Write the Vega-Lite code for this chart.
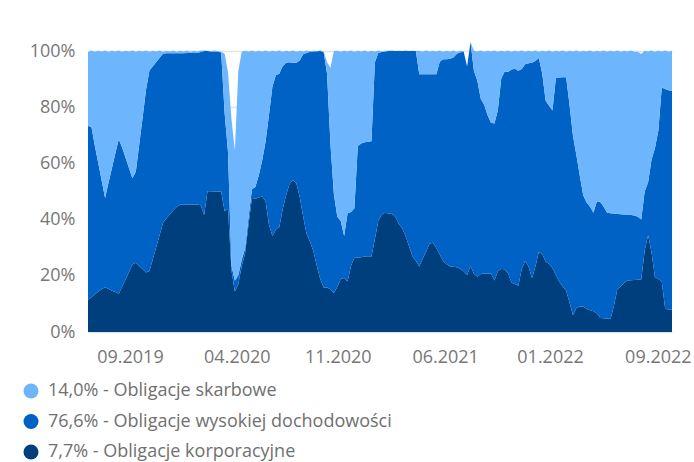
{
  "$schema": "https://vega.github.io/schema/vega-lite/v6.json",
  "width": 584,
  "height": 281,
  "autosize": {"type": "none"},
  "padding": {"left": 88, "top": 51, "right": 22, "bottom": 130},
  "background": "#ffffff",
  "config": {"font": "Open Sans", "view": {"stroke": null}},
  "data": {"values": [
    {"d":"2019-06-26","corporate":11.5,"high_yield":61.8,"treasury":26.3},
    {"d":"2019-07-03","corporate":12.4,"high_yield":60.6,"treasury":27.2},
    {"d":"2019-07-10","corporate":13.4,"high_yield":52.9,"treasury":33.4},
    {"d":"2019-07-17","corporate":14.3,"high_yield":45.8,"treasury":40.0},
    {"d":"2019-07-24","corporate":15.2,"high_yield":38.7,"treasury":45.9},
    {"d":"2019-07-31","corporate":15.9,"high_yield":31.8,"treasury":52.5},
    {"d":"2019-08-07","corporate":15.3,"high_yield":37.8,"treasury":46.6},
    {"d":"2019-08-14","corporate":14.7,"high_yield":43.6,"treasury":41.8},
    {"d":"2019-08-21","corporate":14.2,"high_yield":49.3,"treasury":36.3},
    {"d":"2019-08-28","corporate":13.6,"high_yield":55.0,"treasury":31.6},
    {"d":"2019-09-04","corporate":16.1,"high_yield":49.6,"treasury":34.0},
    {"d":"2019-09-11","corporate":18.7,"high_yield":43.3,"treasury":38.1},
    {"d":"2019-09-18","corporate":21.3,"high_yield":37.1,"treasury":41.4},
    {"d":"2019-09-25","corporate":24.0,"high_yield":30.7,"treasury":45.5},
    {"d":"2019-10-02","corporate":24.6,"high_yield":32.4,"treasury":42.7},
    {"d":"2019-10-09","corporate":23.5,"high_yield":43.2,"treasury":33.4},
    {"d":"2019-10-16","corporate":22.4,"high_yield":54.0,"treasury":23.4},
    {"d":"2019-10-23","corporate":21.2,"high_yield":65.1,"treasury":13.9},
    {"d":"2019-10-30","corporate":21.7,"high_yield":71.4,"treasury":6.6},
    {"d":"2019-11-06","corporate":26.0,"high_yield":68.6,"treasury":5.5},
    {"d":"2019-11-13","corporate":30.3,"high_yield":65.8,"treasury":3.7},
    {"d":"2019-11-20","corporate":34.6,"high_yield":63.0,"treasury":2.6},
    {"d":"2019-11-27","corporate":39.0,"high_yield":60.1,"treasury":0.6},
    {"d":"2019-12-04","corporate":40.5,"high_yield":58.7,"treasury":0.9},
    {"d":"2019-12-11","corporate":41.9,"high_yield":57.3,"treasury":0.6},
    {"d":"2019-12-18","corporate":43.3,"high_yield":55.9,"treasury":1.0},
    {"d":"2019-12-25","corporate":44.6,"high_yield":54.6,"treasury":0.5},
    {"d":"2020-01-01","corporate":45.3,"high_yield":53.9,"treasury":0.9},
    {"d":"2020-01-08","corporate":45.3,"high_yield":53.9,"treasury":0.6},
    {"d":"2020-01-15","corporate":45.4,"high_yield":53.9,"treasury":0.9},
    {"d":"2020-01-22","corporate":45.4,"high_yield":53.9,"treasury":0.4},
    {"d":"2020-01-29","corporate":45.4,"high_yield":53.9,"treasury":0.8},
    {"d":"2020-02-05","corporate":45.4,"high_yield":53.9,"treasury":0.5},
    {"d":"2020-02-12","corporate":45.1,"high_yield":54.5,"treasury":0.6},
    {"d":"2020-02-19","corporate":41.6,"high_yield":58.4,"treasury":0.2},
    {"d":"2020-02-26","corporate":50.1,"high_yield":49.9,"treasury":0.1},
    {"d":"2020-03-04","corporate":50.1,"high_yield":49.7,"treasury":0.2},
    {"d":"2020-03-11","corporate":50.0,"high_yield":49.8,"treasury":0.4},
    {"d":"2020-03-18","corporate":50.0,"high_yield":49.8,"treasury":0.1},
    {"d":"2020-03-25","corporate":50.0,"high_yield":49.5,"treasury":0.2},
    {"d":"2020-04-01","corporate":43.0,"high_yield":35.0,"treasury":21.0},
    {"d":"2020-04-08","corporate":43.8,"high_yield":20.2,"treasury":28.4},
    {"d":"2020-04-15","corporate":22.0,"high_yield":1.7,"treasury":52.3},
    {"d":"2020-04-22","corporate":14.4,"high_yield":3.8,"treasury":46.3},
    {"d":"2020-04-29","corporate":17.0,"high_yield":3.1,"treasury":72.6},
    {"d":"2020-05-06","corporate":23.4,"high_yield":2.2,"treasury":74.1},
    {"d":"2020-05-13","corporate":28.0,"high_yield":1.8,"treasury":70.3},
    {"d":"2020-05-20","corporate":38.2,"high_yield":2.5,"treasury":59.1},
    {"d":"2020-05-27","corporate":47.7,"high_yield":3.1,"treasury":49.4},
    {"d":"2020-06-03","corporate":47.4,"high_yield":4.2,"treasury":48.1},
    {"d":"2020-06-10","corporate":47.9,"high_yield":7.8,"treasury":44.4},
    {"d":"2020-06-17","corporate":48.2,"high_yield":12.8,"treasury":38.8},
    {"d":"2020-06-24","corporate":46.5,"high_yield":21.3,"treasury":32.4},
    {"d":"2020-07-01","corporate":38.2,"high_yield":39.1,"treasury":22.4},
    {"d":"2020-07-08","corporate":34.1,"high_yield":53.3,"treasury":12.7},
    {"d":"2020-07-15","corporate":36.5,"high_yield":54.9,"treasury":8.4},
    {"d":"2020-07-22","corporate":37.3,"high_yield":54.6,"treasury":8.3},
    {"d":"2020-07-29","corporate":43.7,"high_yield":50.9,"treasury":5.1},
    {"d":"2020-08-05","corporate":48.7,"high_yield":47.1,"treasury":4.3},
    {"d":"2020-08-12","corporate":52.7,"high_yield":43.3,"treasury":3.8},
    {"d":"2020-08-19","corporate":54.0,"high_yield":41.8,"treasury":4.4},
    {"d":"2020-08-26","corporate":53.0,"high_yield":42.8,"treasury":3.9},
    {"d":"2020-09-02","corporate":48.0,"high_yield":48.6,"treasury":3.5},
    {"d":"2020-09-09","corporate":41.1,"high_yield":57.7,"treasury":1.0},
    {"d":"2020-09-16","corporate":34.9,"high_yield":64.4,"treasury":0.9},
    {"d":"2020-09-23","corporate":32.1,"high_yield":67.6,"treasury":0.2},
    {"d":"2020-09-30","corporate":28.8,"high_yield":71.0,"treasury":0.3},
    {"d":"2020-10-07","corporate":23.6,"high_yield":76.3,"treasury":0.1},
    {"d":"2020-10-14","corporate":18.9,"high_yield":81.1,"treasury":0.2},
    {"d":"2020-10-21","corporate":15.8,"high_yield":83.8,"treasury":0.2},
    {"d":"2020-10-28","corporate":15.8,"high_yield":76.1,"treasury":4.1},
    {"d":"2020-11-04","corporate":15.2,"high_yield":51.4,"treasury":27.4},
    {"d":"2020-11-11","corporate":13.9,"high_yield":35.1,"treasury":51.0},
    {"d":"2020-11-18","corporate":16.1,"high_yield":24.9,"treasury":59.1},
    {"d":"2020-11-25","corporate":18.9,"high_yield":20.6,"treasury":60.2},
    {"d":"2020-12-02","corporate":19.2,"high_yield":15.0,"treasury":65.9},
    {"d":"2020-12-09","corporate":18.0,"high_yield":24.3,"treasury":57.5},
    {"d":"2020-12-16","corporate":23.5,"high_yield":19.2,"treasury":57.5},
    {"d":"2020-12-23","corporate":26.4,"high_yield":17.6,"treasury":55.7},
    {"d":"2020-12-30","corporate":26.5,"high_yield":39.7,"treasury":33.9},
    {"d":"2021-01-06","corporate":26.6,"high_yield":40.5,"treasury":32.7},
    {"d":"2021-01-13","corporate":26.9,"high_yield":40.6,"treasury":32.7},
    {"d":"2021-01-20","corporate":27.0,"high_yield":40.7,"treasury":32.0},
    {"d":"2021-01-27","corporate":26.9,"high_yield":41.0,"treasury":32.2},
    {"d":"2021-02-03","corporate":33.1,"high_yield":62.9,"treasury":3.8},
    {"d":"2021-02-10","corporate":39.5,"high_yield":59.8,"treasury":0.9},
    {"d":"2021-02-17","corporate":41.8,"high_yield":57.8,"treasury":0.2},
    {"d":"2021-02-24","corporate":42.4,"high_yield":57.4,"treasury":0.3},
    {"d":"2021-03-03","corporate":42.2,"high_yield":57.8,"treasury":0.1},
    {"d":"2021-03-10","corporate":42.0,"high_yield":58.0,"treasury":0.2},
    {"d":"2021-03-17","corporate":41.0,"high_yield":59.0,"treasury":0.0},
    {"d":"2021-03-24","corporate":38.5,"high_yield":61.5,"treasury":0.1},
    {"d":"2021-03-31","corporate":36.9,"high_yield":63.1,"treasury":0.0},
    {"d":"2021-04-07","corporate":34.2,"high_yield":65.8,"treasury":0.2},
    {"d":"2021-04-14","corporate":30.5,"high_yield":69.5,"treasury":0.0},
    {"d":"2021-04-21","corporate":27.0,"high_yield":73.0,"treasury":0.1},
    {"d":"2021-04-28","corporate":25.4,"high_yield":74.6,"treasury":0.0},
    {"d":"2021-05-05","corporate":23.3,"high_yield":68.4,"treasury":8.4},
    {"d":"2021-05-12","corporate":26.1,"high_yield":65.6,"treasury":8.1},
    {"d":"2021-05-19","corporate":28.6,"high_yield":63.1,"treasury":8.5},
    {"d":"2021-05-26","corporate":31.4,"high_yield":60.3,"treasury":8.1},
    {"d":"2021-06-02","corporate":31.8,"high_yield":59.9,"treasury":8.4},
    {"d":"2021-06-09","corporate":29.8,"high_yield":61.9,"treasury":8.1},
    {"d":"2021-06-16","corporate":27.6,"high_yield":68.6,"treasury":4.0},
    {"d":"2021-06-23","corporate":25.2,"high_yield":71.9,"treasury":2.6},
    {"d":"2021-06-30","corporate":24.1,"high_yield":73.0,"treasury":3.0},
    {"d":"2021-07-07","corporate":23.3,"high_yield":73.9,"treasury":2.6},
    {"d":"2021-07-14","corporate":23.2,"high_yield":74.5,"treasury":2.5},
    {"d":"2021-07-21","corporate":23.0,"high_yield":76.0,"treasury":0.7},
    {"d":"2021-07-28","corporate":22.5,"high_yield":77.0,"treasury":0.6},
    {"d":"2021-08-04","corporate":21.6,"high_yield":78.2,"treasury":0.1},
    {"d":"2021-08-11","corporate":20.3,"high_yield":74.2,"treasury":0.0},
    {"d":"2021-08-18","corporate":23.5,"high_yield":79.7,"treasury":0.0},
    {"d":"2021-08-25","corporate":20.7,"high_yield":72.3,"treasury":7.1},
    {"d":"2021-09-01","corporate":19.7,"high_yield":69.7,"treasury":10.4},
    {"d":"2021-09-08","corporate":20.6,"high_yield":62.4,"treasury":17.2},
    {"d":"2021-09-15","corporate":20.8,"high_yield":60.1,"treasury":18.8},
    {"d":"2021-09-22","corporate":20.8,"high_yield":56.3,"treasury":23.0},
    {"d":"2021-09-29","corporate":20.8,"high_yield":53.7,"treasury":25.3},
    {"d":"2021-10-06","corporate":18.3,"high_yield":55.9,"treasury":26.0},
    {"d":"2021-10-13","corporate":21.6,"high_yield":57.2,"treasury":20.9},
    {"d":"2021-10-20","corporate":22.4,"high_yield":67.8,"treasury":9.9},
    {"d":"2021-10-27","corporate":22.3,"high_yield":70.4,"treasury":7.1},
    {"d":"2021-11-03","corporate":20.9,"high_yield":71.6,"treasury":7.7},
    {"d":"2021-11-10","corporate":17.5,"high_yield":75.9,"treasury":6.3},
    {"d":"2021-11-17","corporate":17.1,"high_yield":76.6,"treasury":6.4},
    {"d":"2021-11-24","corporate":16.5,"high_yield":76.5,"treasury":6.8},
    {"d":"2021-12-01","corporate":22.4,"high_yield":71.2,"treasury":6.6},
    {"d":"2021-12-08","corporate":25.3,"high_yield":70.0,"treasury":4.4},
    {"d":"2021-12-15","corporate":23.3,"high_yield":72.3,"treasury":4.5},
    {"d":"2021-12-22","corporate":19.1,"high_yield":76.7,"treasury":4.0},
    {"d":"2021-12-29","corporate":23.3,"high_yield":73.1,"treasury":3.8},
    {"d":"2022-01-05","corporate":28.5,"high_yield":69.0,"treasury":2.2},
    {"d":"2022-01-12","corporate":27.8,"high_yield":64.2,"treasury":8.1},
    {"d":"2022-01-19","corporate":25.0,"high_yield":57.3,"treasury":17.5},
    {"d":"2022-01-26","corporate":24.3,"high_yield":56.2,"treasury":19.7},
    {"d":"2022-02-02","corporate":22.8,"high_yield":56.0,"treasury":20.9},
    {"d":"2022-02-09","corporate":20.3,"high_yield":70.2,"treasury":9.6},
    {"d":"2022-02-16","corporate":17.9,"high_yield":72.7,"treasury":9.2},
    {"d":"2022-02-23","corporate":16.2,"high_yield":74.5,"treasury":9.5},
    {"d":"2022-03-02","corporate":14.8,"high_yield":75.9,"treasury":9.0},
    {"d":"2022-03-09","corporate":10.5,"high_yield":70.3,"treasury":19.3},
    {"d":"2022-03-16","corporate":6.0,"high_yield":63.8,"treasury":30.0},
    {"d":"2022-03-23","corporate":8.5,"high_yield":54.5,"treasury":37.2},
    {"d":"2022-03-30","corporate":9.1,"high_yield":46.5,"treasury":44.1},
    {"d":"2022-04-06","corporate":9.1,"high_yield":39.6,"treasury":51.4},
    {"d":"2022-04-13","corporate":8.2,"high_yield":37.9,"treasury":53.7},
    {"d":"2022-04-20","corporate":7.7,"high_yield":36.9,"treasury":55.6},
    {"d":"2022-04-27","corporate":7.4,"high_yield":35.0,"treasury":57.3},
    {"d":"2022-05-04","corporate":6.7,"high_yield":39.8,"treasury":53.6},
    {"d":"2022-05-11","corporate":5.0,"high_yield":41.3,"treasury":53.5},
    {"d":"2022-05-18","corporate":4.9,"high_yield":39.7,"treasury":55.6},
    {"d":"2022-05-25","corporate":4.8,"high_yield":37.6,"treasury":57.3},
    {"d":"2022-06-01","corporate":4.6,"high_yield":37.7,"treasury":57.8},
    {"d":"2022-06-08","corporate":9.3,"high_yield":32.9,"treasury":57.6},
    {"d":"2022-06-15","corporate":15.2,"high_yield":26.8,"treasury":58.2},
    {"d":"2022-06-22","corporate":16.2,"high_yield":25.7,"treasury":57.8},
    {"d":"2022-06-29","corporate":17.5,"high_yield":24.3,"treasury":58.3},
    {"d":"2022-07-06","corporate":18.3,"high_yield":23.4,"treasury":58.1},
    {"d":"2022-07-13","corporate":18.4,"high_yield":23.2,"treasury":58.6},
    {"d":"2022-07-20","corporate":18.5,"high_yield":23.0,"treasury":58.2},
    {"d":"2022-07-27","corporate":18.6,"high_yield":22.4,"treasury":58.7},
    {"d":"2022-08-03","corporate":18.7,"high_yield":21.3,"treasury":58.9},
    {"d":"2022-08-10","corporate":29.0,"high_yield":21.1,"treasury":50.0},
    {"d":"2022-08-17","corporate":34.4,"high_yield":18.8,"treasury":46.6},
    {"d":"2022-08-24","corporate":28.4,"high_yield":32.9,"treasury":38.9},
    {"d":"2022-08-31","corporate":19.5,"high_yield":45.9,"treasury":34.3},
    {"d":"2022-09-07","corporate":18.9,"high_yield":52.7,"treasury":28.5},
    {"d":"2022-09-14","corporate":18.0,"high_yield":69.0,"treasury":12.8},
    {"d":"2022-09-21","corporate":8.3,"high_yield":78.2,"treasury":13.7},
    {"d":"2022-09-28","corporate":8.0,"high_yield":78.0,"treasury":13.7},
    {"d":"2022-10-05","corporate":7.9,"high_yield":77.9,"treasury":14.3}
  ]},
  "transform": [
    {"fold": ["corporate", "high_yield", "treasury"], "as": ["series", "share"]}
  ],
  "mark": {"type": "area", "interpolate": "linear", "opacity": 1, "clip": false},
  "encoding": {
    "x": {
      "field": "d",
      "type": "temporal",
      "scale": {
        "type": "utc",
        "domain": [
          {"year": 2019, "month": 6, "date": 26, "utc": true},
          {"year": 2022, "month": 10, "date": 5, "utc": true}
        ]
      },
      "axis": {
        "title": null,
        "values": [
          {"year": 2019, "month": 9, "date": 20, "utc": true},
          {"year": 2020, "month": 4, "date": 26, "utc": true},
          {"year": 2020, "month": 11, "date": 19, "utc": true},
          {"year": 2021, "month": 6, "date": 27, "utc": true},
          {"year": 2022, "month": 1, "date": 28, "utc": true},
          {"year": 2022, "month": 9, "date": 6, "utc": true}
        ],
        "labelExpr": "utcFormat(datum.value, '%m.%Y')",
        "grid": false,
        "domain": false,
        "ticks": false,
        "tickSize": 0,
        "labelPadding": 16,
        "labelFontSize": 18,
        "labelFont": "Open Sans",
        "labelColor": "#777777",
        "labelOverlap": false
      }
    },
    "y": {
      "field": "share",
      "type": "quantitative",
      "stack": "zero",
      "scale": {"domain": [0, 100], "nice": false},
      "axis": {
        "title": null,
        "values": [0, 20, 40, 60, 80, 100],
        "labelExpr": "datum.value + '%'",
        "grid": true,
        "gridColor": "#e4e4e4",
        "gridWidth": 1.5,
        "domain": false,
        "ticks": false,
        "tickSize": 0,
        "labelPadding": 13,
        "labelFontSize": 18,
        "labelFont": "Open Sans",
        "labelColor": "#777777"
      }
    },
    "color": {
      "field": "series",
      "type": "nominal",
      "scale": {
        "domain": ["treasury", "high_yield", "corporate"],
        "range": ["#6db6fd", "#0062c4", "#003f7e"]
      },
      "legend": {
        "orient": "none",
        "legendX": -66,
        "legendY": 331,
        "direction": "vertical",
        "title": null,
        "symbolType": "circle",
        "symbolSize": 225,
        "symbolStrokeWidth": 0,
        "symbolOpacity": 1,
        "labelFontSize": 18,
        "labelFont": "Open Sans",
        "labelColor": "#707070",
        "labelOffset": 8,
        "labelLimit": 500,
        "rowPadding": 12.5,
        "labelExpr": "datum.label == 'treasury' ? '14,0% - Obligacje skarbowe' : datum.label == 'high_yield' ? '76,6% - Obligacje wysokiej dochodowości' : '7,7% - Obligacje korporacyjne'"
      }
    },
    "order": {"field": "series", "sort": "ascending"}
  }
}
